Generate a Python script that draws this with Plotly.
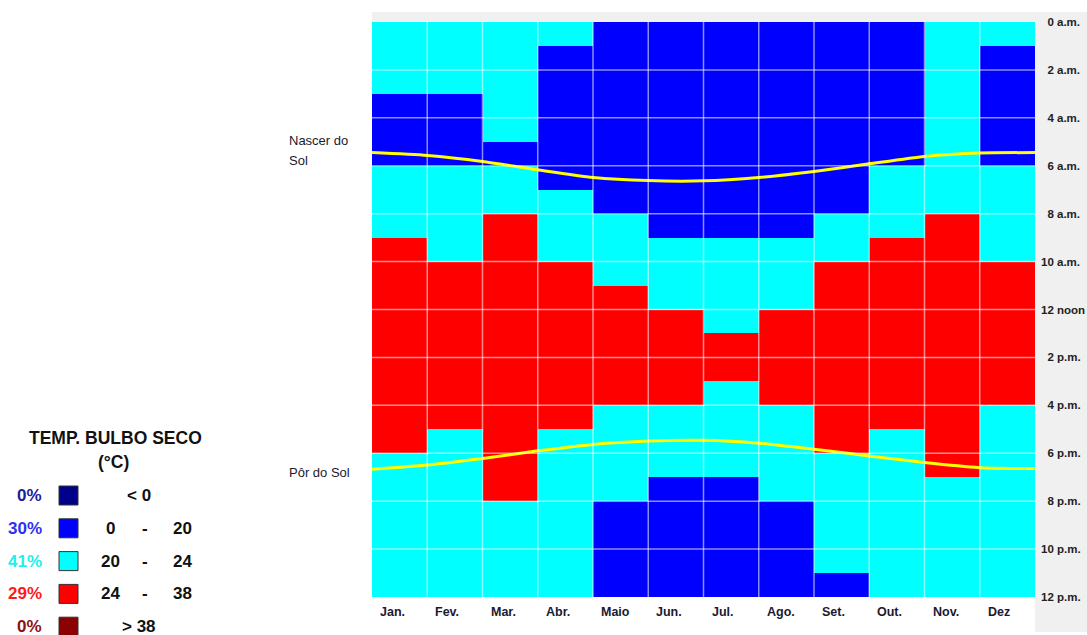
import plotly.graph_objects as go

# ---- data -------------------------------------------------------------
months = ["Jan.", "Fev.", "Mar.", "Abr.", "Maio", "Jun.",
          "Jul.", "Ago.", "Set.", "Out.", "Nov.", "Dez"]

# temperature class per hour (0..23) for each month
# 0: < 0   1: 0-20   2: 20-24   3: 24-38   4: > 38
jan = [2, 2, 2, 1, 1, 1, 2, 2, 2, 3, 3, 3, 3, 3, 3, 3, 3, 3, 2, 2, 2, 2, 2, 2]
fev = [2, 2, 2, 1, 1, 1, 2, 2, 2, 2, 3, 3, 3, 3, 3, 3, 3, 2, 2, 2, 2, 2, 2, 2]
mar = [2, 2, 2, 2, 2, 1, 2, 2, 3, 3, 3, 3, 3, 3, 3, 3, 3, 3, 3, 3, 2, 2, 2, 2]
abr = [2, 1, 1, 1, 1, 1, 1, 2, 2, 2, 3, 3, 3, 3, 3, 3, 3, 2, 2, 2, 2, 2, 2, 2]
mai = [1, 1, 1, 1, 1, 1, 1, 1, 2, 2, 2, 3, 3, 3, 3, 3, 2, 2, 2, 2, 1, 1, 1, 1]
jun = [1, 1, 1, 1, 1, 1, 1, 1, 1, 2, 2, 2, 3, 3, 3, 3, 2, 2, 2, 1, 1, 1, 1, 1]
jul = [1, 1, 1, 1, 1, 1, 1, 1, 1, 2, 2, 2, 2, 3, 3, 2, 2, 2, 2, 1, 1, 1, 1, 1]
ago = [1, 1, 1, 1, 1, 1, 1, 1, 1, 2, 2, 2, 3, 3, 3, 3, 2, 2, 2, 2, 1, 1, 1, 1]
set_ = [1, 1, 1, 1, 1, 1, 1, 1, 2, 2, 3, 3, 3, 3, 3, 3, 3, 3, 2, 2, 2, 2, 2, 1]
out = [1, 1, 1, 1, 1, 1, 2, 2, 2, 3, 3, 3, 3, 3, 3, 3, 3, 2, 2, 2, 2, 2, 2, 2]
nov = [2, 2, 2, 2, 2, 2, 2, 2, 3, 3, 3, 3, 3, 3, 3, 3, 3, 3, 3, 2, 2, 2, 2, 2]
dez = [2, 1, 1, 1, 1, 1, 2, 2, 2, 2, 3, 3, 3, 3, 3, 3, 2, 2, 2, 2, 2, 2, 2, 2]
monthly_classes = [jan, fev, mar, abr, mai, jun, jul, ago, set_, out, nov, dez]

# sunrise / sunset hour at each month boundary (start of Jan ... end of Dez)
sunrise = [5.45, 5.57, 5.82, 6.17, 6.49, 6.62, 6.63, 6.49, 6.24, 5.92, 5.61, 5.47, 5.45]
sunset = [18.67, 18.49, 18.22, 17.90, 17.63, 17.49, 17.46, 17.58, 17.83, 18.11, 18.39, 18.60, 18.64]

hour_ticks = [0, 2, 4, 6, 8, 10, 12, 14, 16, 18, 20, 22, 24]
hour_labels = ["0 a.m.", "2 a.m.", "4 a.m.", "6 a.m.", "8 a.m.", "10 a.m.", "12 noon",
               "2 p.m.", "4 p.m.", "6 p.m.", "8 p.m.", "10 p.m.", "12 p.m."]

class_labels = [("< 0",), ("0", "20"), ("20", "24"), ("24", "38"), ("> 38",)]
class_colors = ["#00008b", "#0000ff", "#00ffff", "#ff0000", "#8b0000"]
pct_colors = ["#1c1c9c", "#2f2ff5", "#20f0f0", "#ff1a1a", "#8e1010"]

# ---- figure geometry --------------------------------------------------
W, H = 1087, 635
PL, PR, PT, PB = 372, 1035, 22, 597


def px_x(p):
    return (p - PL) / (PR - PL)


def px_y(p):
    return (PB - p) / (PB - PT)


# heatmap matrix: rows = hours, columns = months
z = [[monthly_classes[m][h] for m in range(12)] for h in range(24)]

n = len(class_colors)
colorscale = []
for i, c in enumerate(class_colors):
    colorscale.append([i / n, c])
    colorscale.append([(i + 1) / n, c])

fig = go.Figure()
fig.add_trace(go.Heatmap(
    z=z, x0=0.5, dx=1, y0=0.5, dy=1,
    zmin=-0.5, zmax=n - 0.5, colorscale=colorscale,
    showscale=False, hoverinfo="skip",
))

# sun lines
bounds = list(range(13))
for series in (sunrise, sunset):
    fig.add_trace(go.Scatter(
        x=bounds, y=series, mode="lines",
        line=dict(color="#ffff00", width=3, shape="spline", smoothing=0.6),
        hoverinfo="skip", showlegend=False,
    ))

shapes = []
# frame strips
shapes.append(dict(type="rect", xref="paper", yref="paper", layer="below",
                   x0=px_x(372), x1=px_x(1087), y0=px_y(22), y1=px_y(12),
                   fillcolor="#f0f0f0", line=dict(width=0)))
shapes.append(dict(type="rect", xref="paper", yref="paper", layer="below",
                   x0=px_x(1035), x1=px_x(1087), y0=px_y(632), y1=px_y(12),
                   fillcolor="#f0f0f0", line=dict(width=0)))
# grid over the cells
grid = dict(color="rgba(255,255,255,0.55)", width=1.5)
for m in range(1, 12):
    shapes.append(dict(type="line", xref="x", yref="y", x0=m, x1=m, y0=0, y1=24,
                       line=grid, layer="above"))
for h in range(2, 24, 2):
    shapes.append(dict(type="line", xref="x", yref="y", x0=0, x1=12, y0=h, y1=h,
                       line=grid, layer="above"))

annotations = []
# month labels
for i, m in enumerate(months):
    annotations.append(dict(x=i + 0.11, y=px_y(612), xref="x", yref="paper",
                            text="<b>%s</b>" % m, showarrow=False, xanchor="left",
                            yanchor="middle",
                            font=dict(family="Liberation Sans", size=12.5, color="#1a1a33")))

# sunrise / sunset captions
cap_font = dict(family="Liberation Sans", size=13, color="#1a1a2e")
for txt, ypx in (("Nascer do", 140), ("Sol", 160), ("Pôr do Sol", 472)):
    annotations.append(dict(x=px_x(287), y=px_y(ypx), xref="paper", yref="paper",
                            text=txt, showarrow=False, xanchor="left", yanchor="middle",
                            font=cap_font))

# legend
title_font = dict(family="Liberation Sans", size=17.5, color="#111111")
annotations.append(dict(x=px_x(115), y=px_y(438), xref="paper", yref="paper",
                        text="<b>TEMP. BULBO SECO</b>", showarrow=False,
                        xanchor="center", yanchor="middle", font=title_font))
annotations.append(dict(x=px_x(113), y=px_y(462), xref="paper", yref="paper",
                        text="<b>(°C)</b>", showarrow=False,
                        xanchor="center", yanchor="middle", font=title_font))

total = 12 * 24
counts = [sum(row.count(k) for row in monthly_classes) for k in range(n)]
row_font = dict(family="Liberation Sans", size=17, color="#111111")
for k in range(n):
    yc = 495.5 + k * 32.8
    pct = round(100 * counts[k] / total)
    annotations.append(dict(x=px_x(44), y=px_y(yc), xref="paper", yref="paper",
                            text="<b>%d%%</b>" % pct, showarrow=False,
                            xanchor="right", yanchor="middle",
                            font=dict(family="Liberation Sans", size=17,
                                      color=pct_colors[k])))
    shapes.append(dict(type="rect", xref="paper", yref="paper",
                       x0=px_x(59), x1=px_x(78), y0=px_y(yc + 9.5), y1=px_y(yc - 9.5),
                       fillcolor=class_colors[k], line=dict(color="#333333", width=1)))
    lab = class_labels[k]
    if len(lab) == 1:
        annotations.append(dict(x=px_x(139), y=px_y(yc), xref="paper", yref="paper",
                                text="<b>%s</b>" % lab[0], showarrow=False,
                                xanchor="center", yanchor="middle", font=row_font))
    else:
        for txt, xp in ((lab[0], 110), ("-", 145), (lab[1], 182)):
            annotations.append(dict(x=px_x(xp), y=px_y(yc), xref="paper", yref="paper",
                                    text="<b>%s</b>" % txt, showarrow=False,
                                    xanchor="center", yanchor="middle", font=row_font))

tick_text = []
for t in hour_labels:
    pad = "\u2007" if len(t.split(" ")[0]) == 1 else ""
    tick_text.append("<b>%s%s</b>" % (pad, t))

fig.update_layout(
    width=W, height=H,
    margin=dict(l=PL, r=W - PR, t=PT, b=H - PB, pad=0, autoexpand=False),
    paper_bgcolor="#ffffff", plot_bgcolor="#ffffff",
    showlegend=False,
    xaxis=dict(range=[0, 12], showgrid=False, zeroline=False, showticklabels=False,
               ticks="", fixedrange=True, automargin=False),
    yaxis=dict(range=[24, 0], side="right", showgrid=False, zeroline=False,
               tickvals=hour_ticks, ticktext=tick_text, ticks="",
               ticklabelstandoff=5, automargin=False,
               tickfont=dict(family="Liberation Sans", size=11.5, color="#222222"),
               fixedrange=True),
    shapes=shapes,
    annotations=annotations,
)

fig.write_html("out.html")
